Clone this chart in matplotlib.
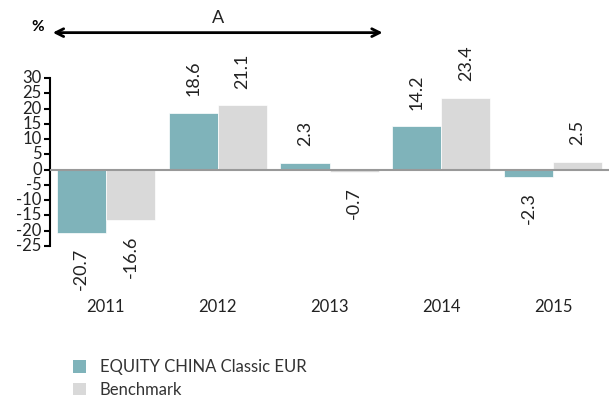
import matplotlib
matplotlib.use("Agg")
import matplotlib.pyplot as plt
import numpy as np
from matplotlib.patches import Patch

plt.rcParams['font.family'] = ['Lato', 'DejaVu Sans']

years = ['2011', '2012', '2013', '2014', '2015']
fund = [-20.7, 18.6, 2.3, 14.2, -2.3]
bench = [-16.6, 21.1, -0.7, 23.4, 2.5]
fund_name = 'EQUITY CHINA Classic EUR'
bench_name = 'Benchmark'
yticks = list(range(-25, 31, 5))

teal = '#7FB3BA'
grey = '#D9D9D9'

fig = plt.figure(figsize=(6.09, 4.00), dpi=100)
ax = fig.add_axes([50/609, 1-246/400, 559/609, (246-78)/400])
x = np.arange(len(years))
w = 0.44
ax.bar(x - w/2, fund, w, color=teal, edgecolor='white', linewidth=0.5, zorder=2)
ax.bar(x + w/2, bench, w, color=grey, edgecolor='white', linewidth=0.5, zorder=2)
ax.axhline(0, color='#999999', linewidth=1.5, zorder=3)

ax.set_xlim(-0.5, len(years) - 0.5)
ax.set_ylim(-25, 30)
ax.set_yticks(yticks)
ax.set_yticklabels([str(t) for t in yticks], fontsize=12, color='#222222')
ax.tick_params(axis='y', length=4, width=1.5, pad=2, labelsize=12)
for lab in ax.get_yticklabels():
    lab.set_verticalalignment('center')
ax.set_xticks(x)
ax.set_xticklabels(years, fontsize=12, color='#222222')
ax.tick_params(axis='x', length=0, pad=38)
for s in ['top', 'right', 'bottom']:
    ax.spines[s].set_visible(False)
ax.spines['left'].set_linewidth(1.5)
ax.spines['left'].set_color('black')

def label(xp, v):
    if v >= 0:
        ax.annotate(f'{v:.1f}', (xp, v), xytext=(0, 12), textcoords='offset points',
                    rotation=90, ha='center', va='bottom', fontsize=13, color='#222222')
    else:
        ax.annotate(f'{v:.1f}', (xp, v), xytext=(0, -11), textcoords='offset points',
                    rotation=90, ha='center', va='top', fontsize=13, color='#222222')

for i in range(len(years)):
    label(x[i] - w/2, fund[i])
    label(x[i] + w/2, bench[i])

# arrow annotation
trans = ax.get_xaxis_transform()
ax.annotate('', xy=(-0.5, 1.27), xytext=(2.5, 1.27), xycoords=trans, textcoords=trans,
            arrowprops=dict(arrowstyle='<->', color='black', lw=2, mutation_scale=14),
            annotation_clip=False)
ax.text(1.0, 1.31, 'A', transform=trans, ha='center', va='bottom', fontsize=13, color='#222222')
fig.text(38/609, 1-27/400, '%', ha='center', va='center', fontsize=11, fontweight='bold')

handles = [Patch(facecolor=teal), Patch(facecolor=grey)]
fig.legend(handles, [fund_name, bench_name], loc='upper left',
           bbox_to_anchor=(58/609, 1-344/400), frameon=False, fontsize=12,
           handlelength=0.8, handleheight=0.8, handletextpad=0.8, labelspacing=0.4,
           labelcolor='#333333')

fig.savefig('out.png', dpi=100)
